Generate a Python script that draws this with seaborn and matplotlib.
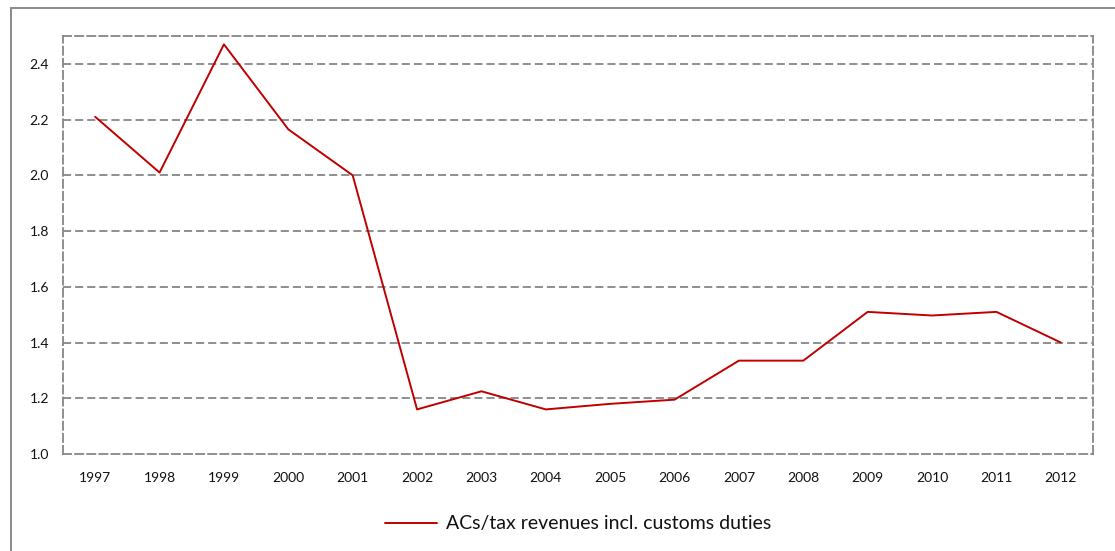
import matplotlib
matplotlib.use("Agg")
import matplotlib.pyplot as plt
import seaborn as sns
import pandas as pd
import numpy as np
from matplotlib.patches import Rectangle

years = [1997, 1998, 1999, 2000, 2001, 2002, 2003, 2004,
         2005, 2006, 2007, 2008, 2009, 2010, 2011, 2012]
ratio = [2.21, 2.01, 2.47, 2.165, 2.00, 1.16, 1.225, 1.16,
         1.18, 1.195, 1.335, 1.335, 1.51, 1.497, 1.51, 1.40]
series_label = "ACs/tax revenues incl. customs duties"
y_ticks = [1.0, 1.2, 1.4, 1.6, 1.8, 2.0, 2.2, 2.4]

sns.set_theme(style="white")
plt.rcParams["font.family"] = ["Lato", "DejaVu Sans"]

GRID = "#868686"
DASH = (0, (4.5, 2.2))

df = pd.DataFrame({"year": years, "value": ratio})

fig = plt.figure(figsize=(11.15, 5.51), dpi=100)
ax = fig.add_axes([63 / 1115, 1 - 454 / 551, (1093 - 63) / 1115, (454 - 36) / 551])

sns.lineplot(data=df, x="year", y="value", ax=ax, color="#C00000",
             linewidth=1.4, label=series_label)

ax.set_xlim(years[0] - 0.5, years[-1] + 0.5)
ax.set_ylim(1.0, 2.5)
ax.set_yticks(y_ticks)
ax.set_yticklabels([f"{v:.1f}" for v in y_ticks], fontsize=10, color="#111111")
ax.set_xticks(years)
ax.set_xticklabels([str(y) for y in years], fontsize=10, color="#111111")
ax.set_xticks(np.arange(years[0] - 0.5, years[-1] + 1), minor=True)
ax.tick_params(axis="x", which="major", length=0, pad=13)
ax.tick_params(axis="x", which="minor", length=4, width=1.3, color=GRID, direction="out")
ax.tick_params(axis="y", which="major", length=4, width=1.3, color=GRID, direction="out", pad=6)
ax.set_xlabel("")
ax.set_ylabel("")

for v in y_ticks[1:]:
    ax.axhline(v, color=GRID, linewidth=1.3, linestyle=DASH, zorder=0)

for s in ax.spines.values():
    s.set_visible(True)
    s.set_color(GRID)
    s.set_linewidth(1.3)
    s.set_linestyle(DASH)

leg = ax.legend(loc="upper center", bbox_to_anchor=(0.5, -0.105), frameon=False,
                fontsize=14, handlelength=2.7, handletextpad=0.45)
for t in leg.get_texts():
    t.set_color("#111111")

fig.patches.append(Rectangle((11 / 1115, -0.05), 1.1, 1 - 8 / 551 + 0.05,
                             transform=fig.transFigure, fill=False,
                             edgecolor="#8a8a8a", linewidth=1.4))

fig.savefig("out.png", dpi=100)
